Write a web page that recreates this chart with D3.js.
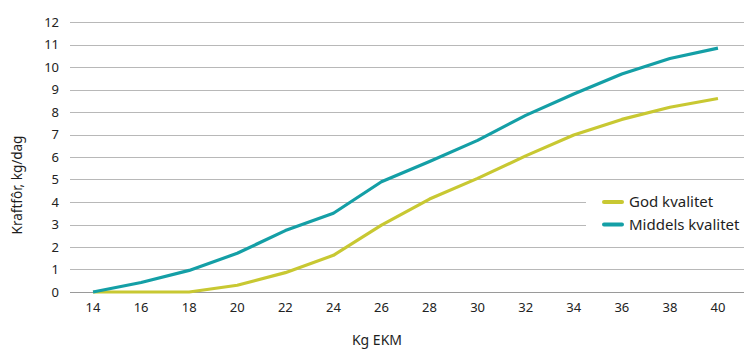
<!DOCTYPE html>
<html>
<head>
<meta charset="utf-8">
<script src="https://cdn.jsdelivr.net/npm/d3@7"></script>
<style>
  html, body { margin: 0; padding: 0; background: #fff; }
  svg { display: block; }
  text { font-family: "Noto Sans", "Open Sans", sans-serif; fill: #222; }
</style>
</head>
<body>
<svg id="chart" width="744" height="354"></svg>
<script>
const categories = [14, 16, 18, 20, 22, 24, 26, 28, 30, 32, 34, 36, 38, 40];
const godKvalitet = [0, 0, 0, 0.3, 0.86, 1.63, 2.97, 4.13, 5.05, 6.05, 6.98, 7.67, 8.21, 8.6];
const middelsKvalitet = [0, 0.42, 0.96, 1.72, 2.73, 3.5, 4.9, 5.8, 6.74, 7.85, 8.8, 9.69, 10.38, 10.84];
const yTicks = [0, 1, 2, 3, 4, 5, 6, 7, 8, 9, 10, 11, 12];
const seriesNames = ["God kvalitet", "Middels kvalitet"];
const colors = ["#c8c832", "#149fa6"];

const svg = d3.select("#chart");
const x = d3.scaleBand().domain(categories).range([69, 742]).padding(0);
const y = d3.scaleLinear().domain([0, 12]).range([292, 22]);

// gridlines
const grid = svg.append("g");
yTicks.forEach(t => {
  const yy = Math.round(y(t)) + 0.5;
  const x2 = (t === 3 || t === 4) ? 586 : 744;
  grid.append("line").attr("x1", 70).attr("x2", x2).attr("y1", yy).attr("y2", yy)
    .attr("stroke", t === 0 ? "#9a9a9a" : "#b8b8b8").attr("stroke-width", 1);
});

// y tick labels
const yAxis = d3.axisLeft(y).tickValues(yTicks).tickSize(0).tickPadding(0);
const gy = svg.append("g").attr("transform", "translate(59,0)").call(yAxis);
gy.select(".domain").remove();
gy.selectAll("text").style("font-size", "13px").attr("fill", "#1e1e1e")
  .style("font-family", '"Noto Sans", sans-serif');

// x tick labels
const xAxis = d3.axisBottom(x).tickSize(0).tickPadding(0);
const gx = svg.append("g").attr("transform", "translate(0,303)").call(xAxis);
gx.select(".domain").remove();
gx.selectAll("text").style("font-size", "13px").attr("fill", "#1e1e1e")
  .style("font-family", '"Noto Sans", sans-serif');

// lines
const line = d3.line().x((d, i) => x(categories[i]) + x.bandwidth() / 2).y(d => y(d));
[godKvalitet, middelsKvalitet].forEach((s, k) => {
  svg.append("path").datum(s).attr("d", line).attr("fill", "none")
    .attr("stroke", colors[k]).attr("stroke-width", 3.2)
    .attr("stroke-linejoin", "round").attr("stroke-linecap", "butt");
});

// axis titles
svg.append("text").attr("transform", "translate(22,185) rotate(-90)")
  .attr("text-anchor", "middle").style("font-size", "13.5px").style("fill", "#1e1e1e").text("Kraftfôr, kg/dag");
svg.append("text").attr("x", 377).attr("y", 345)
  .attr("text-anchor", "middle").style("font-size", "14px").style("fill", "#1e1e1e").text("Kg EKM");

// legend
const lg = svg.append("g");
seriesNames.forEach((n, i) => {
  const yy = 202 + i * 22.5;
  lg.append("line").attr("x1", 604).attr("x2", 622).attr("y1", yy).attr("y2", yy)
    .attr("stroke", colors[i]).attr("stroke-width", 4).attr("stroke-linecap", "round");
  lg.append("text").attr("x", 629).attr("y", yy).attr("dy", "0.35em")
    .style("font-size", "15px").style("fill", "#1e1e1e").text(n);
});
</script>
</body>
</html>
